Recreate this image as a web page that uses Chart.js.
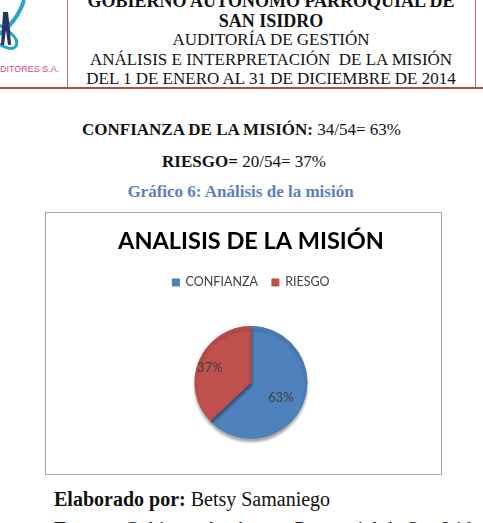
<!DOCTYPE html>
<html lang="es">
<head>
<meta charset="UTF-8">
<title>Análisis de la misión</title>
<style>
    body {
        margin: 0;
        width: 483px;
        height: 523px;
        overflow: hidden;
        background: #fff;
        position: relative;
        font-family: "Liberation Serif", "Times New Roman", serif;
        color: #111;
    }
    .abs { position: absolute; white-space: nowrap; }
    .center { text-align: center; }
    #header-left { left: 67px; top: -10px; width: 1px; height: 97px; background: #c9686a; }
    #header-right { left: 475px; top: -10px; width: 1px; height: 97px; background: #c9686a; }
    #header-line { left: 0; top: 87px; width: 483px; height: 2px; background: #b5484a; }
    .hd { left: 67px; width: 408px; font-size: 17px; line-height: 20px; }
    .hd b { font-size: 18px; }
    #chartBox {
        left: 45px; top: 212px; width: 395px; height: 261px;
        border: 1px solid #a6a6a6;
        background: #fff;
    }
</style>
</head>
<body>

<!-- logo (partial, cut by page edge) -->
<svg class="abs" style="left:0;top:0" width="66" height="80">
    <path d="M24,0 C20,14 10,28 -4,36" fill="none" stroke="#2aa3c8" stroke-width="4"/>
    <path d="M-6,22 C8,30 20,38 16,46 C12,52 2,46 -4,42" fill="none" stroke="#2aa3c8" stroke-width="3"/>
    <path d="M3,12 L8,12 L10,30 L11,45 L8,45 L6,30 L4,45 L1,45 Z" fill="#27336b"/>
    <text x="0" y="72" font-family="Liberation Sans" font-size="9" fill="#d4478b">DITORES S.A.</text>
</svg>

<div id="header-left" class="abs"></div>
<div id="header-right" class="abs"></div>
<div id="header-line" class="abs"></div>

<div class="abs center hd" style="top:-9px"><b>GOBIERNO AUTÓNOMO PARROQUIAL DE</b></div>
<div class="abs center hd" style="top:11px"><b>SAN ISIDRO</b></div>
<div class="abs center hd" style="top:30px">AUDITORÍA DE GESTIÓN</div>
<div class="abs center hd" style="top:50px">ANÁLISIS E INTERPRETACIÓN&nbsp; DE LA MISIÓN</div>
<div class="abs center hd" style="top:69px">DEL 1 DE ENERO AL 31 DE DICIEMBRE DE 2014</div>

<div class="abs center" style="left:0;width:483px;top:120px;font-size:17px"><b>CONFIANZA DE LA MISIÓN:</b> 34/54= 63%</div>
<div class="abs center" style="left:0;width:488px;top:152px;font-size:17px"><b>RIESGO=</b> 20/54= 37%</div>
<div class="abs center" style="left:0;width:481px;top:182px;font-size:17px;color:#5b7fbd"><b>Gráfico 6: Análisis de la misión</b></div>

<div id="chartBox" class="abs">
    <canvas id="chart"></canvas>
</div>

<div class="abs" style="left:54px;top:488px;font-size:20px"><b>Elaborado por:</b> Betsy Samaniego</div>
<div class="abs" style="left:54px;top:518px;font-size:20px"><b>Fuente:</b> Gobierno Autónomo Parroquial de San Isidro</div>

<script src="https://cdn.jsdelivr.net/npm/chart.js"></script>
<script>
    const categories = ['CONFIANZA', 'RIESGO'];
    const counts = [34, 20];
    const sliceColors = ['#4f81bd', '#c0504d'];

    // draws the percentage inside each slice
    const pctLabels = {
        id: 'pctLabels',
        afterDatasetsDraw(chart) {
            const ctx = chart.ctx;
            const meta = chart.getDatasetMeta(0);
            const total = counts.reduce((a, b) => a + b, 0);
            ctx.save();
            ctx.font = '13px Lato';
            ctx.fillStyle = '#404040';
            ctx.textAlign = 'center';
            ctx.textBaseline = 'middle';
            meta.data.forEach((arc, i) => {
                const p = arc.getProps(['x', 'y', 'startAngle', 'endAngle', 'outerRadius']);
                const mid = (p.startAngle + p.endAngle) / 2;
                const d = p.outerRadius * (i === 0 ? 0.58 : 0.8);
                const pct = Math.round(counts[i] / total * 100) + '%';
                ctx.fillText(pct, p.x + Math.cos(mid) * d, p.y + Math.sin(mid) * d + 3);
            });
            ctx.restore();
        }
    };

    // soft shadow under the pie
    const pieShadow = {
        id: 'pieShadow',
        beforeDatasetsDraw(chart) {
            const ctx = chart.ctx;
            ctx.save();
            ctx.shadowColor = 'rgba(0,0,0,0.35)';
            ctx.shadowBlur = 3;
            ctx.shadowOffsetY = 3;
        },
        afterDatasetsDraw(chart) {
            chart.ctx.restore();
        }
    };

    new Chart(document.getElementById('chart'), {
        type: 'pie',
        data: {
            labels: categories,
            datasets: [{
                data: counts,
                backgroundColor: sliceColors,
                borderColor: ['#4a7ab3', '#b54c49'],
                borderWidth: 1,
                radius: 56
            }]
        },
        options: {
            responsive: true,
            maintainAspectRatio: false,
            animation: false,
            layout: { padding: { top: 0, bottom: 8, left: 15, right: 0 } },
            plugins: {
                title: {
                    display: true,
                    text: 'ANALISIS DE LA MISIÓN',
                    color: '#000',
                    font: { family: 'Lato', size: 23.5, weight: 'bold' },
                    padding: { top: 14, bottom: 7 }
                },
                legend: {
                    position: 'top',
                    labels: {
                        boxWidth: 7,
                        boxHeight: 7,
                        color: '#404040',
                        font: { family: 'Lato', size: 12.5 },
                        padding: 14
                    }
                },
                tooltip: { enabled: false }
            }
        },
        plugins: [pieShadow, pctLabels]
    });
</script>
</body>
</html>
